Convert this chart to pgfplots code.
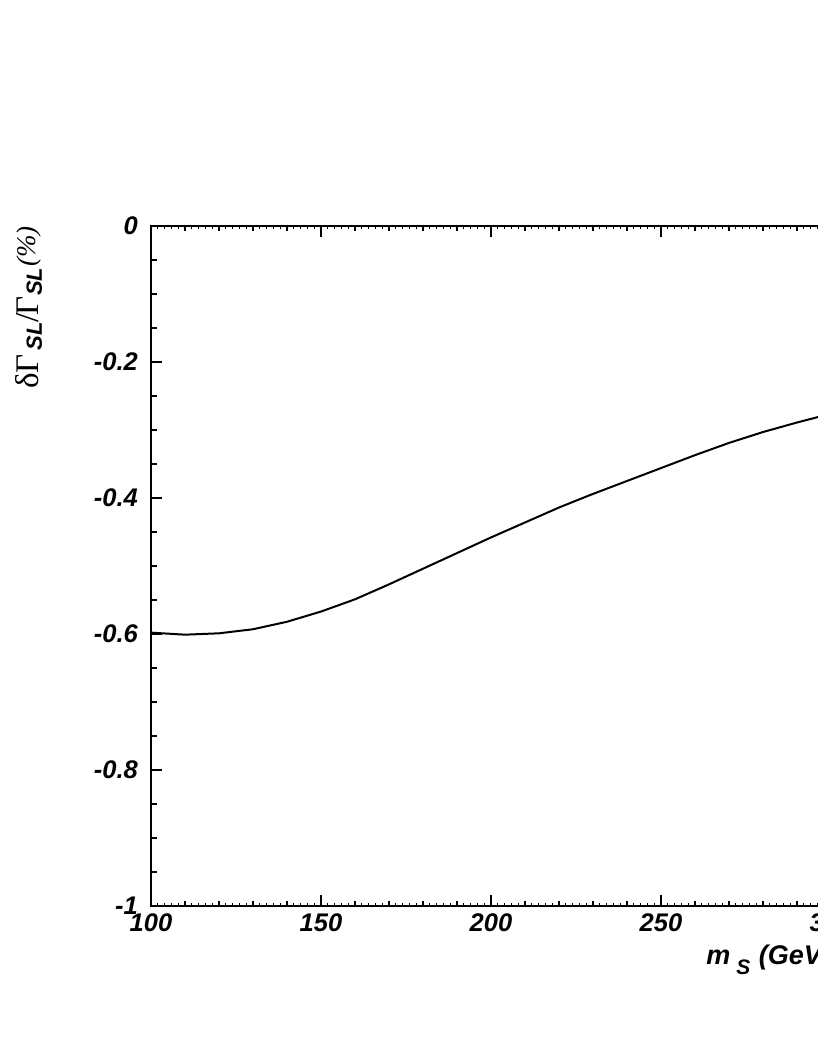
\documentclass[border=0pt]{standalone}
\usepackage{fontspec}
\setmainfont{Liberation Sans}
\newfontfamily\symfont{Liberation Serif}
\usepackage{pgfplots}
\pgfplotsset{compat=1.18}
\begin{document}
\begin{tikzpicture}
\useasboundingbox (0pt,0pt) rectangle (817pt,1058pt);
\begin{axis}[
  at={(151pt,152pt)}, anchor=south west,
  scale only axis, width=680pt, height=680pt,
  xmin=100, xmax=300, ymin=-1, ymax=0,
  xtick={100,150,200,250,300},
  xticklabels={100,150,200,250,300},
  minor xtick={110,120,130,140,160,170,180,190,210,220,230,240,260,270,280,290},
  extra x ticks={102,104,...,298},
  extra x tick labels={},
  extra x tick style={major tick length=3.3pt},
  ytick={-1,-0.8,-0.6,-0.4,-0.2,0},
  yticklabels={-1,-0.8,-0.6,-0.4,-0.2,0},
  minor y tick num=3,
  tick align=inside,
  major tick length=11pt, minor tick length=5.5pt,
  axis line style={line width=1.4pt},
  every tick/.style={black, line width=1.1pt},
  tick label style={font=\fontsize{25.5}{30}\selectfont\bfseries\itshape},
  yticklabel style={inner sep=0pt, xshift=-13pt},
  xticklabel style={inner sep=0pt, yshift=-7pt},
  xlabel={m\kern6pt\raisebox{-10pt}{\fontsize{21}{22}\selectfont S}\kern1pt\ (GeV)},
  xlabel style={font=\fontsize{27}{30}\selectfont\bfseries\itshape, at={(axis description cs:1,0)}, anchor=base east, yshift=-58pt, inner sep=0pt},
  ylabel={{\symfont\fontsize{33}{34}\selectfont δΓ}\kern4pt\raisebox{-3pt}{\fontsize{22}{22}\selectfont\bfseries\itshape SL}{\symfont\fontsize{33}{34}\selectfont /\kern-3ptΓ}\kern1pt\raisebox{-3pt}{\fontsize{22}{22}\selectfont\bfseries\itshape SL}\kern1pt\raisebox{3pt}{\symfont\itshape\fontsize{27}{28}\selectfont (\%)}},
  ylabel style={at={(axis description cs:-0.1647,1)}, anchor=base east, inner sep=0pt},
]
\addplot[black, line width=2pt] coordinates {
(100,-0.598) (110,-0.601) (120,-0.599) (130,-0.593) (140,-0.582)
(150,-0.567) (160,-0.549) (170,-0.527) (180,-0.504) (190,-0.481)
(200,-0.458) (210,-0.436) (220,-0.414) (230,-0.394) (240,-0.375)
(250,-0.356) (260,-0.337) (270,-0.319) (280,-0.303) (290,-0.289)
(300,-0.276)
};
\end{axis}
\end{tikzpicture}
\end{document}
